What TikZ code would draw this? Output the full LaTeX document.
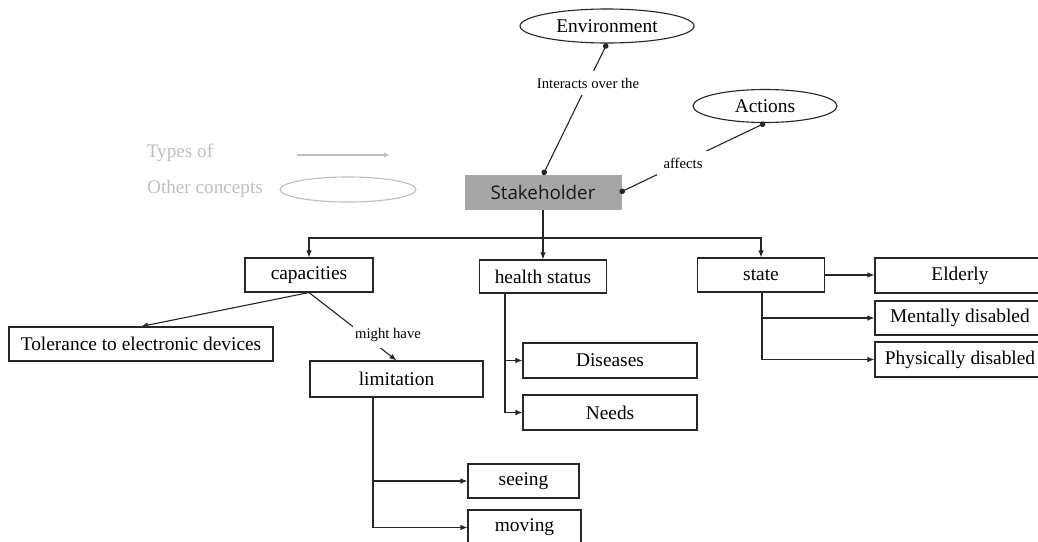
\documentclass[tikz,border=0pt]{standalone}
\usepackage{fontspec}
\setmainfont{Liberation Serif}
\newfontfamily\stakefont{Open Sans}
\usetikzlibrary{arrows.meta,shapes.geometric}
\definecolor{legendgray}{HTML}{BFBFBF}
\definecolor{stakegray}{HTML}{A6A6A6}
\begin{document}
\begin{tikzpicture}[x=1pt,y=-1pt,
  box/.style={draw=black!85,line width=1.1pt,rectangle,inner sep=0pt,font=\fontsize{19.4}{22}\selectfont},
  oval/.style={draw=black!85,line width=1.1pt,ellipse,inner sep=0pt,font=\fontsize{19.4}{22}\selectfont},
  arr/.style={draw=black!85,line width=1.1pt,-{Latex[length=7pt,width=5.5pt]}},
  dotline/.style={draw=black!85,line width=1.1pt,{Circle[length=5.5pt]}-{Circle[length=5.5pt]}},
  lbl/.style={fill=white,inner sep=7pt,font=\fontsize{14.7}{16}\selectfont},
  legend/.style={text=legendgray,font=\fontsize{19.2}{22}\selectfont}
]
\clip (0,0) rectangle (1038,541);
\fill[white] (0,0) rectangle (1038,541);

% legend
\node[legend] (typesof) at (180,153) {Types of};
\node[legend] (othercon) at (205,189) {Other concepts};
\coordinate (legA) at (297,155);
\coordinate (legB) at (390,155);
\draw[legendgray,line width=1.1pt,-{Latex[length=6pt,width=5pt]}] (legA) -- (legB);
\node[ellipse,draw=legendgray,line width=1.1pt,minimum width=136pt,minimum height=25pt,inner sep=0pt] (legoval) at (348,189.5) {};

% top concepts
\node[oval,minimum width=174pt,minimum height=34pt] (env) at (607,26) {Environment};
\node[oval,minimum width=144pt,minimum height=33pt] (actions) at (765,106) {Actions};
\node[rectangle,fill=stakegray,minimum width=157pt,minimum height=35pt,inner sep=0pt,
      font=\stakefont\fontsize{18.8}{22}\selectfont,text=black!90] (stake) at (543,192.5) {Stakeholder};

% second level
\node[box,minimum width=128pt,minimum height=34pt] (cap) at (309,275) {capacities};
\node[box,minimum width=127pt,minimum height=33pt] (health) at (543,276.5) {health status};
\node[box,minimum width=127pt,minimum height=34pt] (state) at (761,275) {state};

\node[box,minimum width=170pt,minimum height=35pt] (elderly) at (960,275.5) {Elderly};
\node[box,minimum width=170pt,minimum height=34pt] (mental) at (960,318) {Mentally disabled};
\node[box,minimum width=170pt,minimum height=35pt] (phys) at (960,359.5) {Physically disabled};

\node[box,minimum width=264pt,minimum height=34pt] (tol) at (141,344) {Tolerance to electronic devices};
\node[box,minimum width=173pt,minimum height=36pt] (lim) at (396.5,379) {limitation};
\node[box,minimum width=174pt,minimum height=35pt] (dis) at (610,360.5) {Diseases};
\node[box,minimum width=174pt,minimum height=35pt] (needs) at (610,412.5) {Needs};
\node[box,minimum width=111pt,minimum height=34pt] (seeing) at (523.5,481) {seeing};
\node[box,minimum width=113pt,minimum height=35pt] (moving) at (524.5,527.5) {moving};

% relations with labels
\draw[dotline] (env.south) -- (stake.north);
\node[lbl] (interacts) at (588,83) {Interacts over the};
\draw[dotline] (actions.south) -- ([xshift=-2pt]stake.east);
\node[lbl] (affects) at (683,163) {affects};

% tree
\coordinate (bus) at (543,238);
\draw[draw=black!85,line width=1.1pt] (stake.south) -- (bus);
\draw[arr] (bus) -| (cap.north);
\draw[arr] (bus) -- (health.north);
\draw[arr] (bus) -| (state.north);

\draw[arr] (cap.south) -- (tol.north);
\draw[arr] (cap.south) -- (lim.north);
\node[lbl,inner xsep=2pt,inner ysep=6pt] (might) at (388,335) {might have};

\draw[arr] ([xshift=-38pt]health.south) |- (dis.west);
\draw[arr] ([xshift=-38pt]health.south) |- (needs.west);

\draw[arr] (state.east) -- (state.east -| elderly.west);
\draw[arr] ([xshift=1pt]state.south) |- (mental.west);
\draw[arr] ([xshift=1pt]state.south) |- (phys.west);

\draw[arr] ([xshift=-23.5pt]lim.south) |- (seeing.west);
\draw[arr] ([xshift=-23.5pt]lim.south) |- (moving.west);
\end{tikzpicture}
\end{document}
